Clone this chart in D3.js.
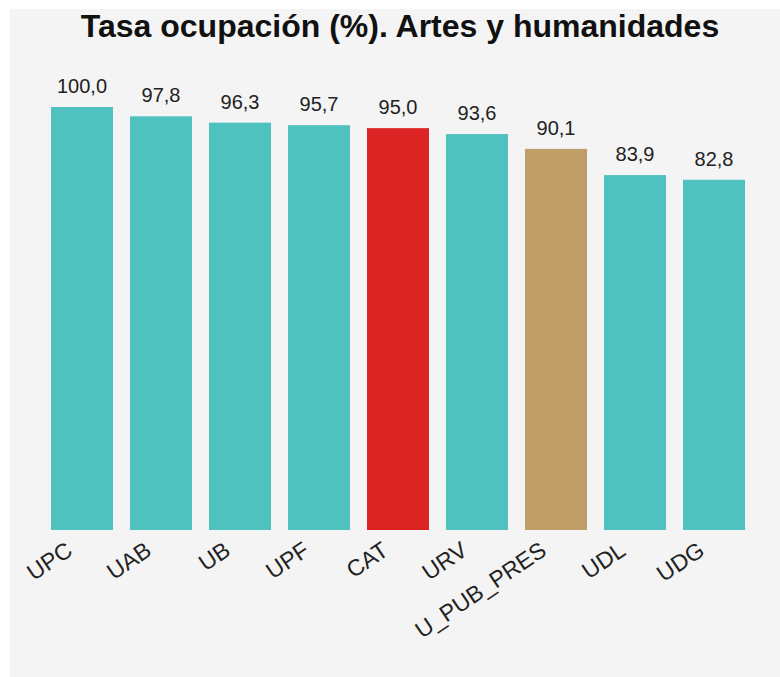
<!DOCTYPE html>
<html>
<head>
<meta charset="utf-8">
<script src="https://cdn.jsdelivr.net/npm/d3@7"></script>
<style>
  body { margin: 0; background: #fff; font-family: "Liberation Sans", Arial, sans-serif; }
</style>
</head>
<body>
<div id="chart"></div>
<script>
var categories = ["UPC", "UAB", "UB", "UPF", "CAT", "URV", "U_PUB_PRES", "UDL", "UDG"];
var values = [100.0, 97.8, 96.3, 95.7, 95.0, 93.6, 90.1, 83.9, 82.8];
var colors = ["#4fc1bf", "#4fc1bf", "#4fc1bf", "#4fc1bf", "#dc2424", "#4fc1bf", "#bf9e67", "#4fc1bf", "#4fc1bf"];
var title = "Tasa ocupación (%). Artes y humanidades";

var width = 780, height = 677;

var svg = d3.select("#chart").append("svg")
    .attr("width", width)
    .attr("height", height);

svg.append("rect")
    .attr("x", 10)
    .attr("y", 9)
    .attr("width", width - 10)
    .attr("height", height - 9)
    .style("fill", "#f4f4f4");

svg.append("text")
    .attr("x", 400)
    .attr("y", 37)
    .attr("text-anchor", "middle")
    .style("font-size", "32px")
    .style("font-weight", "bold")
    .style("fill", "#111")
    .text(title);

var x = d3.scaleBand()
    .domain(categories)
    .range([34, 762])
    .paddingInner(0.215)
    .paddingOuter(0.215);

var y = d3.scaleLinear()
    .domain([0, 100])
    .range([530, 107]);

var data = categories.map(function (c, i) {
    return { cat: c, value: values[i], color: colors[i] };
});

svg.selectAll(".bar")
    .data(data)
    .enter()
    .append("rect")
    .attr("class", "bar")
    .attr("x", function (d) { return x(d.cat); })
    .attr("y", function (d) { return y(d.value); })
    .attr("width", x.bandwidth())
    .attr("height", function (d) { return y(0) - y(d.value); })
    .style("fill", function (d) { return d.color; });

svg.selectAll(".val")
    .data(data)
    .enter()
    .append("text")
    .attr("class", "val")
    .attr("x", function (d) { return x(d.cat) + x.bandwidth() / 2; })
    .attr("y", function (d) { return y(d.value) - 14; })
    .attr("text-anchor", "middle")
    .style("font-size", "20px")
    .style("fill", "#222")
    .text(function (d) { return d3.format(".1f")(d.value).replace(".", ","); });

var axis = svg.append("g")
    .attr("transform", "translate(0,530)")
    .call(d3.axisBottom(x).tickSize(0).tickPadding(0));

axis.select(".domain").remove();

axis.selectAll("text")
    .attr("x", 0)
    .attr("y", 0)
    .attr("dy", 0)
    .style("font-family", "'Liberation Sans', Arial, sans-serif")
    .style("font-size", "23px")
    .style("fill", "#222")
    .style("text-anchor", "end")
    .attr("transform", "translate(-8,24) rotate(-34)");
</script>
</body>
</html>
